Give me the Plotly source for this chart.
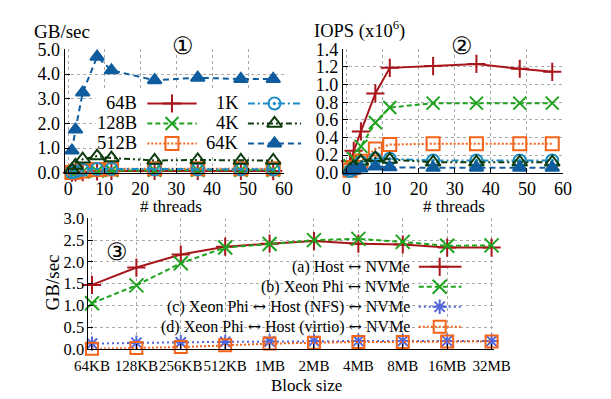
import plotly.graph_objects as go

W, H = 611, 399
FONT = "Liberation Serif"

# ---------------- data ----------------
threads = [1, 2, 4, 8, 12, 24, 36, 48, 57]
req_sizes = ["64B", "128B", "512B", "1K", "4K", "64K"]

# panel 1: bandwidth (GB/sec)
gbps_64B = [0.005, 0.016, 0.03, 0.06, 0.077, 0.078, 0.08, 0.075, 0.073]
gbps_128B = [0.01, 0.02, 0.04, 0.07, 0.095, 0.1, 0.1, 0.1, 0.1]
gbps_512B = [0.015, 0.03, 0.07, 0.13, 0.16, 0.17, 0.17, 0.17, 0.17]
gbps_1K = [0.02, 0.05, 0.12, 0.16, 0.16, 0.14, 0.14, 0.14, 0.14]
gbps_4K = [0.12, 0.3, 0.55, 0.68, 0.6, 0.5, 0.52, 0.5, 0.5]
gbps_64K = [0.9, 1.75, 3.25, 4.7, 4.15, 3.75, 3.85, 3.8, 3.8]

# panel 2: IOPS (x10^6)
iops_64B = [0.13, 0.25, 0.47, 0.9, 1.19, 1.21, 1.235, 1.18, 1.145]
iops_128B = [0.08, 0.16, 0.3, 0.57, 0.74, 0.79, 0.79, 0.79, 0.79]
iops_512B = [0.03, 0.06, 0.13, 0.27, 0.32, 0.33, 0.33, 0.33, 0.33]
iops_1K = [0.02, 0.05, 0.12, 0.16, 0.16, 0.14, 0.14, 0.14, 0.14]
iops_4K = [0.03, 0.07, 0.13, 0.17, 0.15, 0.12, 0.12, 0.12, 0.12]
iops_64K = [0.014, 0.027, 0.05, 0.072, 0.063, 0.057, 0.059, 0.058, 0.058]

# panel 3: block size sweep (GB/sec)
block_sizes = ["64KB", "128KB", "256KB", "512KB", "1MB", "2MB", "4MB", "8MB", "16MB", "32MB"]
host_nvme = [1.47, 1.87, 2.17, 2.35, 2.42, 2.48, 2.42, 2.40, 2.33, 2.33]
phi_nvme = [1.05, 1.46, 1.97, 2.33, 2.41, 2.50, 2.53, 2.46, 2.37, 2.38]
phi_nfs_nvme = [0.12, 0.14, 0.15, 0.16, 0.17, 0.18, 0.18, 0.18, 0.18, 0.18]
phi_virtio_nvme = [0.0, 0.02, 0.04, 0.08, 0.12, 0.14, 0.16, 0.16, 0.17, 0.17]
ARROW = '<span style="font-family:DejaVu Serif">↔</span>'
panel3_names = [
    f"(a) Host {ARROW} NVMe",
    f"(b) Xeon Phi {ARROW} NVMe",
    f"(c) Xeon Phi {ARROW} Host (NFS) {ARROW} NVMe",
    f"(d) Xeon Phi {ARROW} Host (virtio) {ARROW} NVMe",
]

# ---------------- styles ----------------
RED = "#a8161b"
GREEN = "#1fa31f"
ORANGE = "#f26419"
LBLUE = "#1b8cc4"
DGREEN = "#0c3b0c"
DBLUE = "#0f5c9e"
VIOLET = "#5266dc"

styles = {
    "64B": dict(color=RED, dash="solid", symbol="cross-thin-open", size=13),
    "128B": dict(color=GREEN, dash="5px,3px", symbol="x-thin-open", size=13),
    "512B": dict(color=ORANGE, dash="2px,2px", symbol="square-open", size=13),
    "1K": dict(color=LBLUE, dash="7px,3px,2px,3px", symbol="circle-open-dot", size=12),
    "4K": dict(color=DGREEN, dash="6px,3px,2px,3px,2px,3px", symbol="triangle-up-open", size=13),
    "64K": dict(color=DBLUE, dash="6px,4px", symbol="triangle-up", size=12),
}
styles3 = [
    dict(color=RED, dash="solid", symbol="cross-thin-open", size=13),
    dict(color=GREEN, dash="5px,3px", symbol="x-thin-open", size=14),
    dict(color=VIOLET, dash="2px,3px", symbol="asterisk-open", size=12),
    dict(color=ORANGE, dash="2px,2px", symbol="square-open", size=12),
]


def px(x):
    return x / W


def py(y):
    return 1 - y / H


def add_series(fig, x, y, st, xa, ya, lw=2):
    fig.add_trace(go.Scatter(
        x=x, y=y, mode="lines+markers", xaxis=xa, yaxis=ya,
        line=dict(color=st["color"], width=lw, dash=st["dash"]),
        marker=dict(symbol=st["symbol"], size=st["size"], color=st["color"],
                    line=dict(color=st["color"], width=2)),
        showlegend=False, hoverinfo="skip", cliponaxis=False,
    ))


fig = go.Figure()

p1 = [gbps_64B, gbps_128B, gbps_512B, gbps_1K, gbps_4K, gbps_64K]
p2 = [iops_64B, iops_128B, iops_512B, iops_1K, iops_4K, iops_64K]
for name, ys in zip(req_sizes, p1):
    add_series(fig, threads, ys, styles[name], "x", "y")
for name, ys in zip(req_sizes, p2):
    add_series(fig, threads, ys, styles[name], "x2", "y2")
for st, ys in zip(styles3, [host_nvme, phi_nvme, phi_nfs_nvme, phi_virtio_nvme]):
    add_series(fig, block_sizes, ys, st, "x3", "y3")


# ---------------- custom gnuplot-style keys (overlay axis in pixel units) ----------------
def key_entry(label, st, text_right, y, x0, x1, xm, size):
    fig.add_trace(go.Scatter(
        x=[x0, x1], y=[y, y], mode="lines", xaxis="x4", yaxis="y4",
        line=dict(color=st["color"], width=2, dash=st["dash"]),
        showlegend=False, hoverinfo="skip", cliponaxis=False))
    fig.add_trace(go.Scatter(
        x=[xm], y=[y], mode="markers", xaxis="x4", yaxis="y4",
        marker=dict(symbol=st["symbol"], size=st["size"], color=st["color"],
                    line=dict(color=st["color"], width=2)),
        showlegend=False, hoverinfo="skip", cliponaxis=False))
    fig.add_annotation(x=px(text_right), y=py(y), xref="paper", yref="paper",
                       text=label, showarrow=False, xanchor="right", yanchor="middle",
                       font=dict(family=FONT, size=size, color="black"))


# panel 1 key: 2 columns x 3 rows
K1_ROWS = [90, 111, 132]
K1_COLS = [dict(text_right=123, x0=132, x1=184, xm=158),
           dict(text_right=231, x0=238, x1=294, xm=266)]
for i, name in enumerate(req_sizes):
    col = K1_COLS[i // 3]
    key_entry(name, styles[name], col["text_right"], K1_ROWS[i % 3],
              col["x0"], col["x1"], col["xm"], 18.5)

# panel 3 key: 4 rows
K3_ROWS = [262, 283, 304, 325]
for name, st, yk in zip(panel3_names, styles3, K3_ROWS):
    key_entry(name, st, 411, yk, 418, 463, 440, 16)

# opaque background of panel-1 key (hides grid lines)
fig.add_shape(type="rect", xref="x", yref="y", x0=7.6, x1=62, y0=0.78, y1=3.35,
              fillcolor="white", line=dict(width=0), layer="between")

# ---------------- axes ----------------
axis_common = dict(
    showline=True, linecolor="black", linewidth=1, mirror=False,
    ticks="inside", ticklen=5, tickwidth=1, tickcolor="black",
    showgrid=True, gridcolor="#aaaaaa", griddash="dot", gridwidth=1,
    zeroline=False, fixedrange=True, tickangle=0,
)
tick_top = dict(family=FONT, size=18, color="black")
tick_bot = dict(family=FONT, size=15, color="black")

fig.update_layout(
    width=W, height=H, margin=dict(l=0, r=0, t=0, b=0),
    paper_bgcolor="white", plot_bgcolor="rgba(0,0,0,0)", showlegend=False,
    xaxis=dict(axis_common, domain=[px(45), px(276)], anchor="y", range=[-1, 60],
               tickvals=[0, 10, 20, 30, 40, 50, 60], tickfont=tick_top),
    yaxis=dict(axis_common, domain=[py(163), py(33)], anchor="x", range=[0, 5],
               dtick=1, tickformat=".1f", tickfont=tick_top),
    xaxis2=dict(axis_common, domain=[px(338), px(570)], anchor="y2", range=[-1, 60],
                tickvals=[0, 10, 20, 30, 40, 50, 60], tickfont=tick_top),
    yaxis2=dict(axis_common, domain=[py(163), py(33)], anchor="x2", range=[0, 1.4],
                dtick=0.2, tickformat=".1f", tickfont=tick_top),
    xaxis3=dict(axis_common, domain=[px(70), px(497)], anchor="y3", type="category",
                categoryorder="array", categoryarray=block_sizes, range=[-0.08, 9.05],
                tickfont=tick_bot, ticklabelstandoff=3),
    yaxis3=dict(axis_common, domain=[py(348.3), py(211)], anchor="x3", range=[0, 3],
                dtick=0.5, tickformat=".1f", tickfont=dict(tick_bot, size=16.5)),
    xaxis4=dict(domain=[0, 1], anchor="y4", range=[0, W], visible=False, fixedrange=True,
                showgrid=False, zeroline=False),
    yaxis4=dict(domain=[0, 1], anchor="x4", range=[H, 0], visible=False, fixedrange=True,
                showgrid=False, zeroline=False),
)


def text(x, y, s, size=19, xanchor="center", angle=0):
    fig.add_annotation(x=px(x), y=py(y), xref="paper", yref="paper", text=s,
                       showarrow=False, xanchor=xanchor, yanchor="middle", textangle=angle,
                       font=dict(family=FONT, size=size, color="black"))


text(11, 14, "GB/sec", xanchor="left")
text(305, 12, "IOPS (x10<sup>6</sup>)", size=18.5, xanchor="left")
text(157, 198, "# threads", size=17)
text(455, 198, "# threads", size=17)
text(170, 29, "①", size=24)
text(463, 29, "②", size=24)
text(100, 246, "③", size=24)
text(300, 387, "Block size", size=17)
text(32, 278, "GB/sec", size=19, angle=-90)

fig.write_html("out.html")
